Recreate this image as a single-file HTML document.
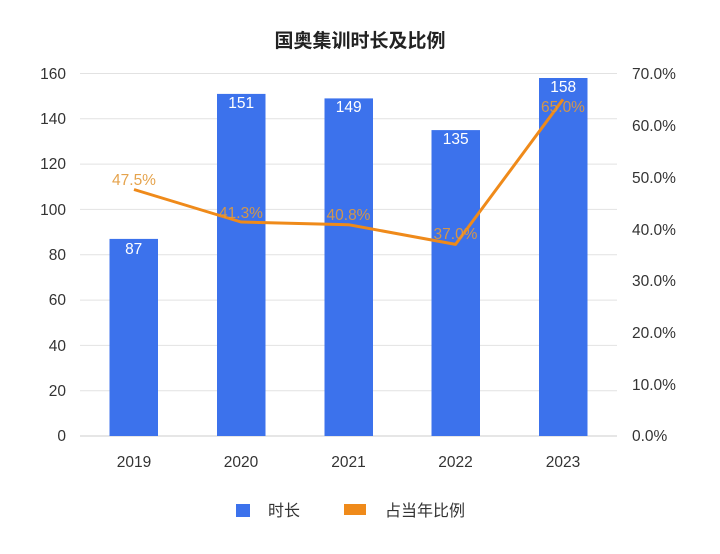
<!DOCTYPE html>
<html><head><meta charset="utf-8"><style>
body{margin:0;background:#fff}
svg{display:block;font-family:"Liberation Sans","Noto Sans CJK SC",sans-serif}
</style></head><body>
<svg width="720" height="554" xmlns="http://www.w3.org/2000/svg">
<text x="360" y="47" text-anchor="middle" font-size="19" font-weight="bold" fill="#222">国奥集训时长及比例</text>
<g stroke="#e2e2e2" stroke-width="1">
<line x1="80" x2="617" y1="73.5" y2="73.5"/><line x1="80" x2="617" y1="118.8" y2="118.8"/>
<line x1="80" x2="617" y1="164.1" y2="164.1"/><line x1="80" x2="617" y1="209.4" y2="209.4"/>
<line x1="80" x2="617" y1="254.8" y2="254.8"/><line x1="80" x2="617" y1="300.1" y2="300.1"/>
<line x1="80" x2="617" y1="345.4" y2="345.4"/><line x1="80" x2="617" y1="390.7" y2="390.7"/>
<line x1="80" x2="617" y1="436" y2="436" stroke="#ccc"/>
</g>
<g font-size="15.5" fill="#333" text-anchor="end">
<text x="66" y="79">160</text><text x="66" y="124">140</text><text x="66" y="169">120</text>
<text x="66" y="215">100</text><text x="66" y="260">80</text><text x="66" y="305">60</text>
<text x="66" y="351">40</text><text x="66" y="396">20</text><text x="66" y="441">0</text>
</g>
<g font-size="15.5" fill="#333">
<text x="632" y="79">70.0%</text><text x="632" y="131">60.0%</text><text x="632" y="183">50.0%</text>
<text x="632" y="235">40.0%</text><text x="632" y="286">30.0%</text><text x="632" y="338">20.0%</text>
<text x="632" y="390">10.0%</text><text x="632" y="441">0.0%</text>
</g>
<g fill="#3c72ec">
<rect x="109.5" y="238.9" width="48.5" height="197.1"/>
<rect x="217" y="93.9" width="48.5" height="342.1"/>
<rect x="324.5" y="98.4" width="48.5" height="337.6"/>
<rect x="431.5" y="130.1" width="48.5" height="305.9"/>
<rect x="539" y="78" width="48.5" height="358"/>
</g>
<g font-size="15.5" fill="#fff" text-anchor="middle">
<text x="133.7" y="254">87</text><text x="241.2" y="108">151</text><text x="348.7" y="112">149</text>
<text x="455.7" y="144">135</text><text x="563.2" y="92">158</text>
</g>
<polyline points="134,189.5 241,222 348.5,224.7 455.5,244.4 563,99.4" fill="none" stroke="#ef8a1a" stroke-width="3" stroke-linejoin="round"/>
<g font-size="15.5" fill="#e39a3a" text-anchor="middle" opacity="0.9">
<text x="134" y="185">47.5%</text><text x="241" y="218">41.3%</text><text x="348.5" y="220">40.8%</text>
<text x="455.5" y="239">37.0%</text><text x="563" y="112">65.0%</text>
</g>
<g font-size="15.5" fill="#333" text-anchor="middle">
<text x="134" y="467">2019</text><text x="241" y="467">2020</text><text x="348.5" y="467">2021</text>
<text x="455.5" y="467">2022</text><text x="563" y="467">2023</text>
</g>
<rect x="236" y="504" width="14" height="13" fill="#3c72ec"/>
<text x="268" y="516" font-size="16" fill="#333">时长</text>
<rect x="344" y="504" width="22" height="11" fill="#ef8a1a"/>
<text x="385" y="516" font-size="16" fill="#333">占当年比例</text>
</svg>
</body></html>
